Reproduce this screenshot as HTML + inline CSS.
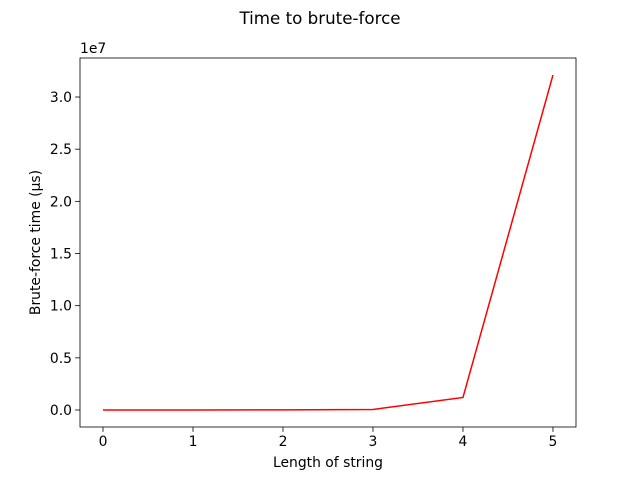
<!DOCTYPE html>
<html><head><meta charset="utf-8"><style>
body{margin:0;background:#fff;font-family:"DejaVu Sans","Liberation Sans",sans-serif;}
svg text{font-family:"DejaVu Sans","Liberation Sans",sans-serif;fill:#000;}
</style></head><body>
<svg id="chart" width="640" height="480" xmlns="http://www.w3.org/2000/svg">
<rect width="640" height="480" fill="#fff"/>
<text x="320" y="24" font-size="16.7" text-anchor="middle">Time to brute-force</text>
<g id="plot"></g>
<text x="328" y="467" font-size="13.9" text-anchor="middle">Length of string</text>
<text transform="translate(40,242.5) rotate(-90)" font-size="13.9" text-anchor="middle">Brute-force time (µs)</text>
<text x="80" y="53" font-size="13.9">1e7</text>
</svg>
<script>
const xValues=[0,1,2,3,4,5];
const yValues=[0,500,10000,50000,1200000,32100000];
const xTicks=[0,1,2,3,4,5];
const yTicks=[0,0.5,1.0,1.5,2.0,2.5,3.0];
const L=80,R=576,T=58,B=427;
const xMin=-0.2556,xMax=5.256,yMin=-0.163,yMax=3.374;
function sx(v){return L+(v-xMin)/(xMax-xMin)*(R-L);}
function sy(v){return B-(v-yMin)/(yMax-yMin)*(B-T);}
const ns="http://www.w3.org/2000/svg";
const g=document.getElementById('plot');
function mk(t,a){const e=document.createElementNS(ns,t);for(const k in a)e.setAttribute(k,a[k]);g.appendChild(e);return e;}
xTicks.forEach(v=>{
 const l=mk('line',{x1:sx(v),x2:sx(v),y1:B,y2:B+4.9,stroke:'#000','stroke-width':0.8});
 
 
 const t=mk('text',{x:sx(v),y:B+19,'font-size':13.9,'text-anchor':'middle'});
 t.textContent=v;
 
 
});
yTicks.forEach(v=>{
 const l=mk('line',{x1:L-4.9,x2:L,y1:sy(v),y2:sy(v),stroke:'#000','stroke-width':0.8});
 
 
 const t=mk('text',{x:L-8,y:sy(v)+5,'font-size':13.9,'text-anchor':'end'});
 t.textContent=v.toFixed(1);
 
 
});
const pts=xValues.map((x,i)=>sx(x)+','+sy(yValues[i]/1e7)).join(' ');
const line=mk('polyline',{points:pts,fill:'none',stroke:'red','stroke-width':1.5});


const f=mk('rect',{x:L,y:T,width:R-L,height:B-T,fill:'none',stroke:'#000','stroke-width':0.8});


</script>
</body></html>
